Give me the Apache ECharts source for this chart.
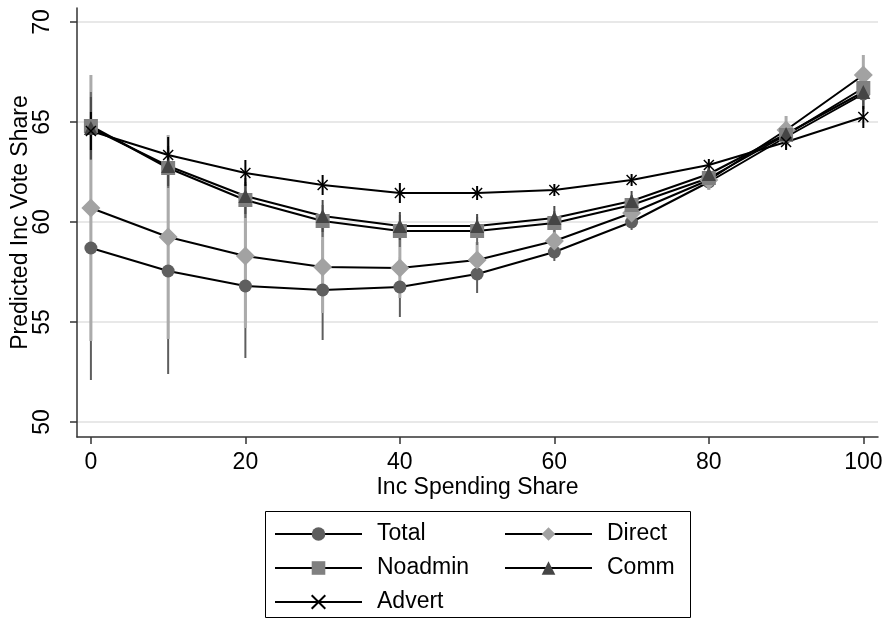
<!DOCTYPE html>
<html>
<head>
<meta charset="utf-8">
<script src="https://cdn.jsdelivr.net/npm/echarts@6/dist/echarts.min.js"></script>
<style>
html,body{margin:0;padding:0;background:#fff;}
#main{width:889px;height:620px;}
</style>
</head>
<body>
<div id="main"></div>
<script>
// x positions (inc spending share)
var shares = [0, 10, 20, 30, 40, 50, 60, 70, 80, 90, 100];
var xTicks = [0, 20, 40, 60, 80, 100];
var yTicks = [50, 55, 60, 65, 70];

// predicted vote share
var total   = [58.7, 57.55, 56.8, 56.6, 56.75, 57.4, 58.5, 60.0, 62.0, 64.25, 66.4];
var direct  = [60.7, 59.25, 58.3, 57.75, 57.7, 58.1, 59.05, 60.45, 62.1, 64.6, 67.35];
var noadmin = [64.8, 62.7, 61.1, 60.05, 59.55, 59.55, 59.95, 60.85, 62.2, 64.35, 66.7];
var comm    = [64.7, 62.8, 61.3, 60.3, 59.8, 59.8, 60.2, 61.05, 62.4, 64.4, 66.5];
var advert  = [64.55, 63.35, 62.45, 61.85, 61.45, 61.45, 61.6, 62.1, 62.85, 64.0, 65.25];

// half widths of the confidence spikes
var ciTotal   = [6.6, 5.15, 3.6, 2.5, 1.5, 0.95, 0.45, 0.4, 0.4, 0.6, 0.9];
var ciDirect  = [6.65, 5.1, 3.6, 2.3, 1.5, 0.9, 0.6, 0.5, 0.5, 0.7, 1.0];
var ciNoadmin = [1.7, 1.0, 0.9, 0.8, 0.8, 0.7, 0.6, 0.5, 0.5, 0.6, 0.9];
var ciComm    = [1.55, 1.0, 0.9, 0.8, 0.7, 0.6, 0.6, 0.5, 0.5, 0.6, 0.85];
var ciAdvert  = [0.95, 0.9, 0.65, 0.5, 0.5, 0.35, 0.3, 0.3, 0.3, 0.4, 0.55];

var font = 'Liberation Sans, Arial, sans-serif';
var fs = 23;

function pts(vals){
    return shares.map(function(x, i){ return [x, vals[i]]; });
}
function spikes(vals, ci){
    return shares.map(function(x, i){ return [x, vals[i] - ci[i], vals[i] + ci[i]]; });
}
function spikeSeries(vals, ci, color, w){
    return {
        type: 'custom',
        silent: true,
        data: spikes(vals, ci),
        renderItem: function(params, api){
            var x = api.value(0);
            var p1 = api.coord([x, api.value(1)]);
            var p2 = api.coord([x, api.value(2)]);
            return {
                type: 'line',
                shape: {x1: p1[0], y1: p1[1], x2: p2[0], y2: p2[1]},
                style: {stroke: color, lineWidth: w}
            };
        }
    };
}
function lineSeries(name, vals, symbol, size, color, extra){
    var s = {
        name: name,
        type: 'line',
        data: pts(vals),
        symbol: symbol,
        symbolSize: size,
        showAllSymbol: true,
        lineStyle: {color: '#000', width: 2},
        itemStyle: {color: color},
        emphasis: {disabled: true}
    };
    if (extra) s.itemStyle = extra;
    return s;
}

var xPath = 'path://M0,0L10,10M10,0L0,10';

var legendText = {fontSize: fs, color: '#000', fontFamily: font, lineHeight: 26, padding: [0, 0, 0, 10]};

var myChart = echarts.init(document.getElementById('main'));
var option = {
    backgroundColor: '#fff',
    animation: false,
    textStyle: {fontFamily: font},
    grid: {left: 77, right: 11, top: 8, bottom: 183, containLabel: false, outerBoundsMode: 'none'},
    xAxis: {
        type: 'value',
        min: -1.8,
        max: 101.9,
        name: 'Inc Spending Share',
        nameLocation: 'middle',
        nameGap: 39,
        nameMoveOverlap: false,
        nameTextStyle: {fontSize: fs, color: '#000', fontFamily: font},
        axisLine: {show: true, onZero: false, lineStyle: {color: '#333', width: 1.5}},
        axisTick: {show: true, length: 7, customValues: xTicks, lineStyle: {color: '#333', width: 1.5}},
        axisLabel: {customValues: xTicks, fontSize: fs, color: '#000', margin: 14, fontFamily: font},
        splitLine: {show: false}
    },
    yAxis: {
        type: 'value',
        min: 49.25,
        max: 70.7,
        name: 'Predicted Inc Vote Share',
        nameLocation: 'middle',
        nameGap: 45,
        nameMoveOverlap: false,
        nameTextStyle: {fontSize: fs, color: '#000', fontFamily: font},
        axisLine: {show: true, onZero: false, lineStyle: {color: '#333', width: 1.5}},
        axisTick: {show: true, length: 7, customValues: yTicks, lineStyle: {color: '#333', width: 1.5}},
        axisLabel: {customValues: yTicks, rotate: 90, fontSize: fs, color: '#000', margin: 23, fontFamily: font},
        splitLine: {show: true, lineStyle: {color: '#e8e8e8', width: 2}}
    },
    legend: [
        {
            left: 274, top: 521, height: 110, padding: 0, orient: 'vertical', itemGap: 8,
            itemWidth: 87, itemHeight: 17,
            data: ['Total', 'Noadmin', 'Advert'],
            textStyle: legendText,
            selectedMode: false
        },
        {
            left: 504, top: 521, height: 110, padding: 0, orient: 'vertical', itemGap: 8,
            itemWidth: 87, itemHeight: 17,
            data: ['Direct', 'Comm'],
            textStyle: legendText,
            selectedMode: false
        }
    ],
    graphic: [{
        type: 'rect',
        shape: {x: 265.5, y: 511.5, width: 425, height: 106},
        style: {fill: 'none', stroke: '#000', lineWidth: 1}
    }],
    series: [
        spikeSeries(total, ciTotal, '#5e5e5e', 2),
        spikeSeries(direct, ciDirect, '#ababab', 3),
        spikeSeries(noadmin, ciNoadmin, '#6a6a6a', 2),
        spikeSeries(comm, ciComm, '#4a4a4a', 2),
        spikeSeries(advert, ciAdvert, '#000', 2),
        lineSeries('Total', total, 'circle', 13, '#5f5f5f'),
        lineSeries('Direct', direct, 'diamond', 19, '#a2a2a2'),
        lineSeries('Noadmin', noadmin, 'rect', 14, '#808080'),
        lineSeries('Comm', comm, 'triangle', 14, '#454545'),
        lineSeries('Advert', advert, xPath, 10, '#000', {color: '#000', borderColor: '#000', borderWidth: 1.5})
    ]
};
myChart.setOption(option);
</script>
</body>
</html>
